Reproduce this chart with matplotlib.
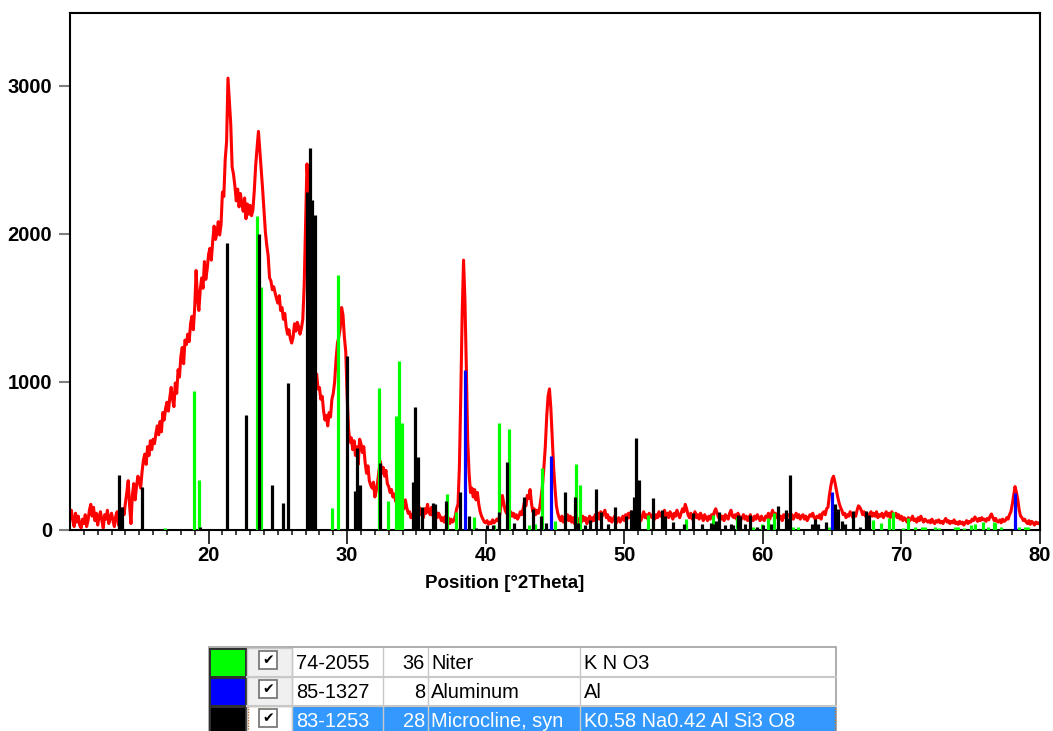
import numpy as np
import matplotlib
matplotlib.use("Agg")
import matplotlib.pyplot as plt
from matplotlib.patches import Rectangle

# ---- measured scan (counts), 0.1 deg 2Theta step from 10 to 80 ----
scan_start, scan_step = 10.0, 0.1
scan_counts = [
    80, 130, 60, 20, 110, 50, 90, 30, 10, 70,             # 10
    40, 100, 20, 60, 130, 170, 90, 150, 60, 110,          # 11
    30, 90, 120, 60, 10, 100, 70, 130, 40, 80,            # 12
    110, 60, 20, 90, 120, 30, 80, 60, 140, 100,           # 13
    180, 250, 330, 160, 40, 230, 310, 200, 290, 360,      # 14
    330, 280, 390, 470, 510, 440, 560, 500, 600, 540,     # 15
    610, 580, 650, 700, 640, 730, 660, 790, 740, 820,     # 16
    860, 800, 890, 960, 880, 830, 990, 920, 1080, 1030,   # 17
    1170, 1230, 1120, 1280, 1250, 1320, 1270, 1390, 1440, 1350,  # 18
    1500, 1750, 1560, 1480, 1620, 1700, 1630, 1810, 1690, 1760,  # 19
    1860, 1900, 1820, 1950, 2050, 1960, 2000, 2080, 1990, 2060,  # 20
    2280, 2250, 2500, 2620, 3050, 2900, 2740, 2450, 2400, 2320,  # 21
    2220, 2300, 2180, 2270, 2200, 2150, 2240, 2100, 2200, 2130,  # 22
    2190, 2120, 2160, 2290, 2460, 2580, 2690, 2560, 2420, 2300,  # 23
    2150, 2010, 1920, 1850, 1700, 1680, 1620, 1640, 1600, 1560,  # 24
    1530, 1580, 1480, 1500, 1420, 1460, 1370, 1320, 1350, 1290,  # 25
    1260, 1300, 1390, 1340, 1400, 1370, 1320, 1360, 1420, 1650,  # 26
    2050, 2470, 2300, 2000, 1600, 1300, 1100, 1000, 1050, 950,   # 27
    960, 880, 900, 800, 740, 770, 700, 790, 760, 880,     # 28
    920, 1000, 1150, 1260, 1300, 1360, 1500, 1450, 1300, 1200,  # 29
    900, 680, 590, 620, 540, 600, 500, 560, 440, 610,     # 30
    580, 520, 560, 450, 380, 430, 330, 300, 280, 320,     # 31
    220, 260, 320, 400, 460, 380, 420, 360, 400, 310,     # 32
    290, 250, 270, 220, 240, 190, 230, 170, 210, 160,     # 33
    180, 140, 200, 150, 110, 120, 80, 100, 60, 140,       # 34
    120, 90, 150, 100, 130, 80, 140, 110, 170, 120,       # 35
    100, 150, 90, 140, 120, 80, 110, 90, 60, 80,          # 36
    50, 90, 60, 80, 40, 70, 50, 60, 90, 140,              # 37
    170, 420, 900, 1450, 1820, 1550, 1100, 600, 380, 250,  # 38
    280, 220, 270, 200, 250, 170, 120, 90, 70, 50,        # 39
    45, 60, 35, 50, 40, 65, 45, 55, 70, 60,               # 40
    90, 160, 230, 180, 130, 110, 150, 100, 120, 90,       # 41
    110, 80, 100, 70, 90, 120, 100, 140, 190, 160,        # 42
    230, 210, 270, 180, 120, 140, 100, 130, 110, 150,     # 43
    220, 300, 420, 560, 760, 900, 950, 820, 620, 420,     # 44
    280, 160, 110, 80, 60, 90, 50, 80, 60, 100,           # 45
    60, 90, 50, 80, 40, 70, 30, 60, 80, 50,               # 46
    90, 60, 80, 40, 70, 90, 50, 80, 60, 100,              # 47
    80, 110, 70, 120, 90, 110, 130, 80, 100, 60,          # 48
    80, 50, 70, 90, 40, 60, 80, 50, 70, 90,               # 49
    60, 100, 70, 110, 80, 120, 90, 70, 110, 90,           # 50
    70, 100, 60, 90, 120, 80, 100, 70, 110, 90,           # 51
    80, 110, 70, 100, 80, 120, 90, 110, 70, 130,          # 52
    90, 110, 80, 120, 100, 70, 110, 90, 130, 100,         # 53
    80, 110, 140, 120, 170, 140, 100, 80, 110, 70,        # 54
    90, 120, 80, 100, 70, 110, 90, 60, 100, 80,           # 55
    60, 90, 70, 100, 80, 120, 140, 110, 80, 100,          # 56
    70, 90, 60, 100, 80, 70, 110, 130, 90, 80,            # 57
    100, 70, 110, 90, 60, 80, 100, 70, 90, 60,            # 58
    80, 100, 70, 60, 90, 70, 100, 80, 60, 90,             # 59
    70, 60, 90, 80, 110, 70, 100, 130, 90, 110,           # 60
    80, 100, 70, 90, 60, 100, 80, 110, 90, 100,           # 61
    80, 100, 70, 90, 110, 80, 100, 70, 90, 100,           # 62
    70, 90, 60, 80, 100, 90, 110, 80, 70, 90,             # 63
    80, 100, 70, 110, 120, 100, 140, 150, 230, 290,       # 64
    340, 360, 320, 270, 220, 180, 150, 130, 100, 110,     # 65
    80, 100, 90, 120, 100, 80, 110, 90, 130, 160,         # 66
    150, 130, 100, 120, 90, 110, 80, 100, 120, 90,        # 67
    110, 90, 120, 80, 100, 90, 110, 80, 100, 120,         # 68
    90, 110, 80, 120, 100, 90, 110, 80, 100, 70,          # 69
    90, 60, 80, 70, 50, 80, 60, 70, 90, 60,               # 70
    70, 50, 80, 60, 90, 70, 50, 70, 60, 50,               # 71
    60, 45, 70, 50, 40, 60, 50, 65, 45, 55,               # 72
    40, 60, 75, 50, 60, 40, 55, 45, 65, 40,               # 73
    50, 35, 55, 40, 50, 30, 45, 60, 40, 55,               # 74
    50, 70, 60, 85, 70, 55, 75, 60, 80, 65,               # 75
    70, 55, 75, 65, 90, 105, 80, 60, 75, 55,              # 76
    50, 65, 45, 70, 55, 60, 80, 70, 100, 120,             # 77
    170, 230, 290, 250, 200, 130, 90, 80, 60, 70,         # 78
    50, 40, 60, 35, 55, 45, 30, 50, 40, 45,               # 79
    35,
]
scan_2theta = scan_start + scan_step * np.arange(len(scan_counts))

# ---- reference patterns: stick positions (deg 2Theta) and intensities ----
niter_pos = [16.85, 18.95, 19.32, 23.49, 23.79, 28.91, 29.35, 32.28, 32.95, 33.53,
             33.76, 33.96, 37.20, 37.88, 39.18, 40.57, 40.98, 41.68, 43.15, 43.58,
             44.04, 45.02, 46.55, 46.82, 51.68, 54.48, 56.37, 58.11, 59.27, 59.93,
             60.40, 60.83, 62.20, 62.57, 64.78, 67.96, 68.52, 69.08, 69.41, 70.13,
             70.45, 71.00, 71.50, 71.70, 72.40, 72.70, 73.90, 74.10, 74.50, 75.00,
             75.30, 75.90, 76.26, 76.65, 76.75, 77.18, 78.50, 78.90, 79.10]
niter_int = [10, 935, 334, 2115, 1640, 148, 1720, 958, 190, 768,
             1140, 722, 240, 120, 87, 30, 717, 679, 30, 40,
             413, 60, 442, 298, 98, 70, 98, 82, 20, 40,
             78, 110, 20, 15, 20, 65, 42, 75, 116, 10,
             76, 15, 20, 15, 15, 12, 15, 15, 12, 30,
             40, 50, 15, 50, 45, 15, 20, 15, 15]

aluminum_pos = [38.47, 44.70, 65.02, 78.20]
aluminum_int = [1075, 495, 256, 248]

microcline_pos = [13.56, 13.72, 15.18, 19.39, 21.34, 22.72, 23.63, 24.59, 25.37, 25.71,
                  27.12, 27.33, 27.47, 27.66, 29.98, 30.60, 30.74, 30.90, 32.37, 34.76,
                  34.93, 35.12, 35.40, 36.19, 36.33, 37.12, 38.12, 38.82, 39.30, 40.09,
                  40.53, 40.95, 41.54, 42.02, 42.79, 43.42, 43.99, 44.38, 45.72, 46.41,
                  46.65, 47.18, 47.55, 47.96, 48.31, 48.79, 49.34, 50.15, 50.48, 50.67,
                  50.88, 51.03, 52.07, 52.71, 52.93, 53.49, 54.32, 54.94, 55.59, 56.24,
                  56.50, 56.65, 56.86, 57.27, 57.72, 57.87, 58.23, 58.38, 58.72, 59.04,
                  59.56, 60.04, 60.59, 61.07, 61.67, 61.82, 61.97, 63.53, 63.73, 63.97,
                  64.56, 65.21, 65.40, 65.69, 65.94, 66.49, 66.98, 67.41, 67.65]
microcline_int = [365, 154, 287, 19, 1938, 775, 1997, 299, 182, 992,
                  2283, 2576, 2226, 2125, 1174, 258, 549, 302, 447, 318,
                  830, 488, 154, 177, 170, 195, 251, 93, 10, 28,
                  30, 116, 453, 43, 222, 136, 90, 46, 253, 222,
                  46, 30, 64, 273, 115, 40, 150, 88, 130, 222,
                  620, 332, 210, 130, 88, 50, 40, 109, 40, 45,
                  40, 60, 118, 30, 40, 30, 98, 90, 35, 98,
                  20, 30, 40, 156, 132, 75, 370, 40, 70, 40,
                  50, 170, 140, 55, 35, 122, 18, 126, 100]

x_ticks = [20, 30, 40, 50, 60, 70, 80]
y_ticks = [0, 1000, 2000, 3000]

# ---- legend table rows ----
ref_codes = ["74-2055", "85-1327", "83-1253"]
ref_scores = ["36", "8", "28"]
ref_names = ["Niter", "Aluminum", "Microcline, syn"]
ref_formulas = ["K N O3", "Al", "K0.58 Na0.42 Al Si3 O8"]
ref_colors = ["#00ff00", "#0000ff", "#000000"]

W, H = 1053, 731
fig = plt.figure(figsize=(W / 100, H / 100), dpi=100)
plt.rcParams["font.family"] = ["Liberation Sans", "DejaVu Sans"]

ax = fig.add_axes([70 / W, 1 - 529.5 / H, (1040 - 70) / W, (529.5 - 13) / H])
ax.plot(scan_2theta, scan_counts, color="#ff0000", lw=2.2, zorder=2)
ax.vlines(niter_pos, 0, niter_int, color=ref_colors[0], lw=2.3, zorder=3)
ax.vlines(aluminum_pos, 0, aluminum_int, color=ref_colors[1], lw=2.3, zorder=4)
ax.vlines(microcline_pos, 0, microcline_int, color=ref_colors[2], lw=2.3, zorder=5)

ax.set_xlim(10, 80)
ax.set_ylim(0, 3490)
ax.set_xticks(x_ticks)
ax.set_xticks(np.arange(11, 80), minor=True)
ax.set_yticks(y_ticks)
for s in ax.spines.values():
    s.set_linewidth(1.5)
    s.set_color("black")
ax.tick_params(axis="x", which="major", length=10, width=1.3, color="#202020",
               labelsize=14.5, pad=2)
ax.tick_params(axis="x", which="minor", length=3.8, width=1.2, color="#202020")
ax.tick_params(axis="y", which="major", length=8, width=1.5, color="#808080",
               labelsize=14.5, pad=5)
for lab in ax.get_xticklabels() + ax.get_yticklabels():
    lab.set_fontweight("bold")
ax.set_xlabel("Position [°2Theta]", fontsize=13.5, fontweight="bold")
ax.xaxis.set_label_coords(0.448, -0.088)

# ---- legend table drawn in pixel coordinates ----
tb = fig.add_axes([0, 0, 1, 1])
tb.set_xlim(0, W)
tb.set_ylim(H, 0)
tb.axis("off")

x0, x_sw, x_cb, x_code, x_score, x_name, x_formula, x1 = 209, 247, 292, 292, 383, 428, 580, 836
row_top = [648, 677, 706]
row_h = 29
grid = "#c8c8c8"

tb.add_patch(Rectangle((x0, 647), x1 - x0, H - 647, facecolor="white",
                       edgecolor="#a0a0a0", lw=1.2))
for i, top in enumerate(row_top):
    # colour swatch
    tb.add_patch(Rectangle((x0, top), x_sw - x0, row_h, facecolor="#303030", edgecolor="none"))
    tb.add_patch(Rectangle((x0 + 2, top + 1.5), x_sw - x0 - 4, row_h - 3,
                           facecolor=ref_colors[i], edgecolor="none"))
    # checkbox cell
    tb.add_patch(Rectangle((x_sw, top), x_cb - x_sw, row_h,
                           facecolor="#f0f0f0" if i < 2 else "white", edgecolor=grid, lw=1))
    tb.add_patch(Rectangle((259, top + 3), 18, 18, facecolor="white", edgecolor="#707070", lw=1.2))
    tb.text(268, top + 12, "\u2714", fontsize=10, ha="center", va="center",
            color="black", family=["DejaVu Sans"])
    selected = i == 2
    if selected:
        tb.add_patch(Rectangle((x_code, top), x1 - x_code, row_h, facecolor="#3399ff",
                               edgecolor="none"))
    tc = "white" if selected else "black"
    for xl in (x_code, x_score, x_name, x_formula):
        tb.plot([xl, xl], [top, top + row_h], color=grid, lw=1)
    tb.plot([x_sw, x1], [top + row_h, top + row_h], color=grid, lw=1.5)
    yc = top + row_h / 2 + 1
    tb.text(x_code + 4, yc, ref_codes[i], fontsize=14.4, color=tc, va="center", ha="left")
    tb.text(x_name - 3, yc, ref_scores[i], fontsize=14.4, color=tc, va="center", ha="right")
    tb.text(x_name + 3, yc, ref_names[i], fontsize=14.4, color=tc, va="center", ha="left")
    tb.text(x_formula + 4, yc, ref_formulas[i], fontsize=14.4, color=tc, va="center", ha="left")

# focus rectangle on the selected row
tb.add_patch(Rectangle((x_sw + 1, row_top[2]), x1 - x_sw - 2, row_h, facecolor="none",
                       edgecolor="#c07030", lw=1, linestyle=(0, (1, 1))))

fig.savefig("out.png", dpi=100)
